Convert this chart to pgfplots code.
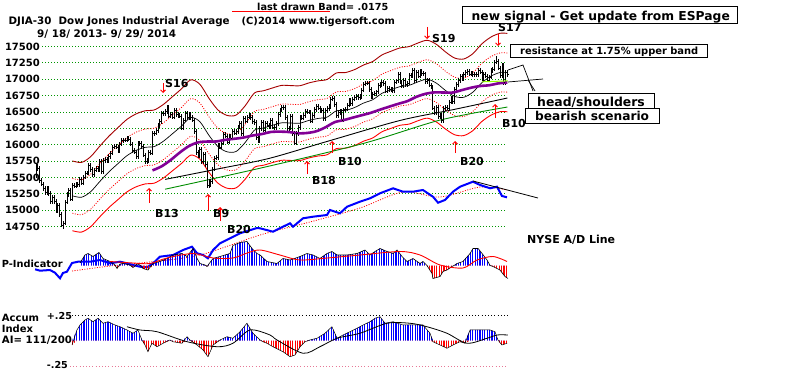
\documentclass[border=0pt]{standalone}
\usepackage{pgfplots}
\pgfplotsset{compat=1.18}
\usepackage{pgfplotstable}
\usepackage{fontspec}
\setmainfont{DejaVu Sans}
\usetikzlibrary{patterns.meta,arrows.meta}
\definecolor{dkred}{RGB}{165,0,0}
\definecolor{gridgreen}{RGB}{0,150,0}
\definecolor{purp}{RGB}{130,0,150}
\definecolor{mygreen}{RGB}{0,140,0}
\definecolor{mylime}{RGB}{150,255,0}
\definecolor{pinkish}{RGB}{230,120,150}
\pgfdeclareplotmark{rtick}{\pgfpathmoveto{\pgfpointorigin}\pgfpathlineto{\pgfqpoint{1.6pt}{0pt}}\pgfusepathqstroke}

\pgfplotstableread{
d c h l
0 15676 15710 15490
1 15636 15711 15601
2 15451 15671 15416
3 15401 15486 15366
4 15334 15436 15299
5 15273 15369 15238
6 15328 15363 15238
7 15258 15363 15223
8 15130 15293 15095
9 15191 15226 15095
10 15133 15226 15098
11 14996 15168 14961
12 15072 15107 14961
13 14936 15107 14901
14 14776 14971 14741
15 14802 14837 14719
16 15126 15161 14767
17 15237 15272 15091
18 15301 15336 15202
19 15168 15336 15133
20 15373 15408 15133
21 15371 15408 15336
22 15399 15434 15336
23 15392 15434 15357
24 15467 15502 15357
25 15413 15502 15378
26 15509 15544 15378
27 15570 15605 15474
28 15569 15605 15534
29 15680 15715 15534
30 15618 15715 15583
31 15546 15653 15511
32 15615 15650 15511
33 15639 15674 15580
34 15618 15674 15583
35 15746 15781 15583
36 15593 15781 15558
37 15762 15797 15558
38 15783 15818 15727
39 15751 15818 15716
40 15822 15857 15716
41 15876 15911 15787
42 15962 15997 15841
43 15976 16011 15927
44 15967 16011 15932
45 15901 16002 15866
46 16010 16045 15866
47 16065 16100 15975
48 16073 16108 16030
49 16073 16108 16038
50 16097 16132 16038
51 16086 16132 16051
52 16008 16121 15973
53 15915 16043 15880
54 15889 15950 15854
55 15821 15924 15786
56 16020 16055 15786
57 16026 16061 15985
58 15973 16061 15938
59 15844 16008 15809
60 15740 15879 15705
61 15755 15790 15705
62 15885 15920 15720
63 15875 15920 15840
64 16168 16203 15840
65 16179 16214 16133
66 16221 16256 16144
67 16295 16330 16186
68 16358 16393 16260
69 16479 16514 16323
70 16479 16514 16444
71 16505 16540 16444
72 16577 16612 16470
73 16441 16612 16406
74 16470 16505 16406
75 16426 16505 16391
76 16531 16566 16391
77 16463 16566 16428
78 16445 16498 16410
79 16437 16480 16402
80 16257 16472 16222
81 16374 16409 16222
82 16482 16517 16339
83 16418 16517 16383
84 16459 16494 16383
85 16415 16494 16380
86 16374 16450 16339
87 16198 16409 16163
88 15879 16233 15844
89 15838 15914 15803
90 15929 15964 15803
91 15739 15964 15704
92 15849 15884 15704
93 15699 15884 15664
94 15373 15734 15338
95 15445 15480 15338
96 15441 15480 15356
97 15629 15664 15406
98 15794 15829 15594
99 15801 15836 15759
100 15994 16029 15766
101 15964 16029 15929
102 16027 16062 15929
103 16154 16189 15992
104 16130 16189 16095
105 16040 16165 16005
106 16133 16168 16005
107 16104 16168 16069
108 16208 16243 16069
109 16180 16243 16145
110 16198 16233 16145
111 16272 16307 16163
112 16322 16357 16237
113 16168 16357 16133
114 16396 16431 16133
115 16360 16431 16325
116 16422 16457 16325
117 16453 16488 16387
118 16418 16488 16383
119 16351 16453 16316
120 16341 16386 16306
121 16109 16376 16074
122 16066 16144 16031
123 16247 16282 16031
124 16336 16371 16212
125 16223 16371 16188
126 16332 16367 16188
127 16303 16367 16268
128 16276 16338 16241
129 16368 16403 16241
130 16268 16403 16233
131 16264 16303 16229
132 16323 16358 16229
133 16458 16493 16288
134 16532 16567 16423
135 16573 16608 16497
136 16572 16608 16537
137 16413 16607 16378
138 16246 16448 16211
139 16257 16292 16211
140 16437 16472 16222
141 16171 16472 16136
142 16027 16206 15992
143 16174 16209 15992
144 16263 16298 16139
145 16425 16460 16228
146 16409 16460 16374
147 16449 16484 16374
148 16515 16550 16414
149 16502 16550 16467
150 16501 16537 16466
151 16361 16536 16326
152 16449 16484 16326
153 16535 16570 16414
154 16581 16616 16500
155 16559 16616 16524
156 16513 16594 16478
157 16530 16565 16478
158 16402 16565 16367
159 16518 16553 16367
160 16550 16585 16483
161 16583 16618 16515
162 16695 16730 16548
163 16715 16750 16660
164 16614 16750 16579
165 16447 16649 16412
166 16492 16527 16412
167 16512 16547 16457
168 16374 16547 16339
169 16533 16568 16339
170 16543 16578 16498
171 16606 16641 16508
172 16676 16711 16571
173 16633 16711 16598
174 16698 16733 16598
175 16717 16752 16663
176 16743 16778 16682
177 16722 16778 16687
178 16737 16772 16687
179 16836 16871 16702
180 16924 16959 16801
181 16943 16978 16889
182 16945 16980 16908
183 16843 16980 16808
184 16734 16878 16699
185 16776 16811 16699
186 16781 16816 16741
187 16808 16843 16746
188 16906 16941 16773
189 16921 16956 16871
190 16947 16982 16886
191 16937 16982 16902
192 16818 16972 16783
193 16868 16903 16783
194 16846 16903 16811
195 16851 16886 16811
196 16827 16886 16792
197 16956 16991 16792
198 16976 17011 16921
199 17068 17103 16941
200 16955 17103 16920
201 16906 16990 16871
202 16985 17020 16871
203 16915 17020 16880
204 16944 16979 16880
205 17055 17090 16909
206 17061 17096 17020
207 17138 17173 17026
208 16977 17173 16942
209 17100 17135 16942
210 17052 17135 17017
211 17114 17149 17017
212 17086 17149 17051
213 17083 17121 17048
214 16961 17118 16926
215 16983 17018 16926
216 16913 17018 16878
217 16881 16948 16846
218 16563 16916 16528
219 16493 16598 16458
220 16569 16604 16458
221 16430 16604 16395
222 16443 16478 16395
223 16369 16478 16334
224 16554 16589 16334
225 16570 16605 16519
226 16561 16605 16526
227 16651 16686 16526
228 16713 16748 16616
229 16663 16748 16628
230 16839 16874 16628
231 16919 16954 16804
232 16979 17014 16884
233 17039 17074 16944
234 17001 17074 16966
235 17076 17111 16966
236 17107 17142 17041
237 17122 17157 17072
238 17080 17157 17045
239 17098 17133 17045
240 17068 17133 17033
241 17079 17114 17033
242 17069 17114 17034
243 17138 17173 17034
244 17111 17173 17076
245 17014 17146 16979
246 17068 17103 16979
247 17049 17103 17014
248 16988 17084 16953
249 17031 17066 16953
250 17131 17166 16996
251 17156 17191 17096
252 17266 17301 17121
253 17280 17350 17231
254 17173 17315 17138
255 17056 17208 17021
256 17211 17246 17021
257 16946 17246 16911
258 17113 17148 16911
259 17071 17148 17036
}\price

\pgfplotstableread{
d ma up upd dnd dn
20 15219 15752 15485 14953 14686
25 15197 15729 15463 14931 14665
30 15281 15816 15548 15014 14746
35 15436 15976 15706 15166 14896
40 15583 16128 15856 15310 15038
45 15710 16260 15985 15435 15160
50 15833 16387 16110 15556 15279
55 15913 16470 16191 15635 15356
60 15959 16518 16238 15680 15400
65 15972 16531 16252 15692 15413
70 16053 16615 16334 15772 15491
75 16168 16734 16451 15885 15602
80 16285 16855 16570 16000 15715
85 16415 16990 16702 16128 15840
90 16352 16924 16638 16066 15780
95 16144 16709 16427 15861 15579
100 15971 16530 16250 15692 15412
105 15891 16447 16169 15613 15335
110 15897 16453 16175 15619 15341
115 16036 16597 16317 15755 15475
120 16221 16789 16505 15937 15653
125 16255 16824 16539 15971 15686
130 16297 16867 16582 16012 15727
135 16334 16906 16620 16048 15762
140 16331 16903 16617 16045 15759
145 16329 16901 16615 16043 15757
150 16371 16944 16657 16085 15798
155 16401 16975 16688 16114 15827
160 16422 16997 16709 16135 15847
165 16517 17095 16806 16228 15939
170 16524 17102 16813 16235 15946
175 16567 17147 16857 16277 15987
180 16636 17218 16927 16345 16054
185 16687 17271 16979 16395 16103
190 16783 17370 17077 16489 16196
195 16838 17427 17133 16543 16249
200 16887 17478 17183 16591 16296
205 16907 17499 17203 16611 16315
210 16961 17555 17258 16664 16367
215 17000 17595 17298 16703 16405
220 16940 17533 17236 16644 16347
225 16828 17417 17122 16534 16239
230 16738 17324 17031 16445 16152
235 16724 17309 17017 16431 16139
240 16802 17390 17096 16508 16214
245 16948 17541 17245 16651 16355
250 17048 17645 17346 16750 16451
255 17103 17702 17402 16804 16504
259 17101 17700 17400 16802 16502
}\bands

\pgfplotstableread{
d v
64 15607
69 15669
74 15766
79 15880
84 15978
89 16035
94 16048
99 16049
104 16074
109 16090
114 16109
119 16140
124 16162
129 16194
134 16199
139 16193
144 16174
149 16179
154 16205
159 16265
164 16343
169 16375
174 16413
179 16450
184 16487
189 16535
194 16580
199 16624
204 16665
209 16731
214 16777
219 16799
224 16797
229 16797
234 16834
239 16870
244 16896
249 16908
254 16936
259 16951
}\masixtyfive

\pgfplotstableread{
d v
71 15470
100 15630
128 15790
160 16050
200 16370
230 16540
259 16713
}\matwohundred

\pgfplotstableread{
d v
71 15320
123 15640
180 16020
222 16376
259 16575
}\greenline

\pgfplotstableread{
d v
-0.5 20.7
2.2 19.3
7.7 20
10.4 17.3
13.2 11.7
14.8 17
17.0 18.3
19.8 27
23.1 28.3
29.7 28.3
35.2 30
40.7 26.7
46.2 28.3
50.0 26.7
53.3 25
57.1 23.3
61.0 22.7
64.3 26.7
68.1 33.3
75.3 35
80.8 40
85.7 43.3
88.5 36.7
91.8 35
94.5 31.7
97.3 40
101.1 46.7
106.6 51.7
112.1 56.7
121.4 62
123.1 61.7
130.2 58.3
135.7 63.3
139.6 66.7
141.2 63.3
146.7 71.7
152.2 73.3
159.9 75
161.5 80
167.0 76.7
170.9 83.3
178.0 88.3
183.5 91.7
189.0 96.7
196.2 101.7
201.6 98.3
207.1 98.3
212.6 100
218.1 93.3
220.9 87.3
224.7 90
229.1 98.3
233.0 103.3
240.1 108.3
244.0 105
249.5 101.7
253.3 103.3
256.0 94
258.8 92.7
}\adline

\pgfplotstableread{
d v
19.8 19
40.7 24
62.6 28
90.1 35
123.1 55
150.5 68
178.0 82
201.6 98
222.0 93
244.0 103
258.8 100
}\adma

\pgfplotstableread{
d v p n
24.2 2.5 2.5 0
26.9 10.5 10.5 0
28.6 12 12 0
31.3 9 9 0
34.6 13 13 0
36.8 7 7 0
40.7 4 4 0
43.4 0.5 0.5 0
44.5 -3 0 -3
46.2 1.5 1.5 0
47.8 2 2 0
51.6 0.5 0.5 0
53.3 -2 0 -2
55.5 1.5 1.5 0
57.1 0.5 0.5 0
58.8 -3 0 -3
61.5 -4.5 0 -4.5
64.3 2 2 0
68.1 4 4 0
72.0 7 7 0
75.3 10.5 10.5 0
80.2 12 12 0
83.0 9 9 0
86.3 17 17 0
88.5 7 7 0
90.1 2 2 0
92.9 0.5 0.5 0
94.0 -1 0 -1
95.6 3 3 0
97.3 7 7 0
101.1 9 9 0
106.6 12 12 0
108.2 20 20 0
112.1 23 23 0
115.9 24 24 0
118.7 17 17 0
121.4 12 12 0
123.1 10.5 10.5 0
126.9 4 4 0
132.4 2 2 0
135.7 7 7 0
139.6 5.5 5.5 0
145.1 9 9 0
148.9 12 12 0
152.2 10.5 10.5 0
156.0 7 7 0
159.9 12 12 0
162.6 14 14 0
165.4 10.5 10.5 0
170.9 10.5 10.5 0
176.4 12 12 0
180.8 15.5 15.5 0
183.5 10.5 10.5 0
186.3 14 14 0
189.0 17 17 0
192.9 14 14 0
196.2 12 12 0
198.4 15.5 15.5 0
201.1 9 9 0
203.8 4 4 0
207.1 7 7 0
211.0 2 2 0
212.6 4 4 0
214.8 0 0 0
217.6 -8 0 -8
218.1 -13 0 -13
222.0 -11 0 -11
223.6 -6 0 -6
225.8 -4.5 0 -4.5
228.6 -1 0 -1
229.7 0 0 0
231.3 2 2 0
234.6 4 4 0
238.5 12 12 0
240.1 17 17 0
242.9 17 17 0
245.1 12 12 0
247.8 5.5 5.5 0
249.5 0 0 0
251.1 -1 0 -1
254.9 -4.5 0 -4.5
257.7 -11 0 -11
259.3 -13 0 -13
}\pind

\pgfplotstableread{
d v
40.7 4
53.3 2.5
62.6 2
72.0 7.5
86.3 12
97.3 7.5
108.2 7.5
116.0 12.5
123.1 15.5
134.0 10.5
145.0 5.5
160.0 7.5
178.0 10.5
200.0 14
211.0 10.5
222.0 0.5
234.6 -2.5
242.3 5.5
251.1 9
258.8 4
}\pindma

\pgfplotstableread{
d a p n
19.8 -0.044 0 -0.044
22.5 0.103 0.103 0
24.2 0.152 0.152 0
26.9 0.201 0.201 0
28.6 0.218 0.218 0
31.3 0.184 0.184 0
34.1 0.218 0.218 0
36.8 0.169 0.169 0
39.6 0.184 0.184 0
43.4 0.152 0.152 0
46.2 0.135 0.135 0
50.0 0.103 0.103 0
53.3 0.071 0.071 0
56.0 0.103 0.103 0
58.2 0.005 0.005 0
59.9 -0.044 0 -0.044
61.5 -0.110 0 -0.110
63.7 -0.027 0 -0.027
66.5 -0.061 0 -0.061
69.8 -0.027 0 -0.027
73.6 0.005 0.005 0
75.3 -0.012 0 -0.012
80.2 -0.027 0 -0.027
83.0 0.037 0.037 0
84.6 0.005 0.005 0
88.5 -0.044 0 -0.044
91.8 -0.093 0 -0.093
94.5 -0.159 0 -0.159
97.3 -0.044 0 -0.044
101.1 0.005 0.005 0
104.9 0.037 0.037 0
108.2 0.022 0.022 0
112.1 0.086 0.086 0
115.9 0.169 0.169 0
119.2 0.071 0.071 0
123.1 0.005 0.005 0
124.7 -0.012 0 -0.012
126.9 -0.027 0 -0.027
130.2 -0.061 0 -0.061
135.7 -0.110 0 -0.110
139.6 -0.159 0 -0.159
142.3 -0.142 0 -0.142
145.1 -0.061 0 -0.061
147.8 -0.012 0 -0.012
150.5 0.005 0.005 0
154.4 0.022 0.022 0
158.8 0.071 0.071 0
162.6 0.135 0.135 0
165.4 0.022 0.022 0
168.7 0.054 0.054 0
172.5 0.086 0.086 0
176.4 0.120 0.120 0
179.7 0.152 0.152 0
183.5 0.184 0.184 0
186.3 0.218 0.218 0
189.0 0.233 0.233 0
191.8 0.169 0.169 0
196.2 0.184 0.184 0
201.6 0.152 0.152 0
207.1 0.152 0.152 0
212.6 0.152 0.152 0
216.5 0.071 0.071 0
218.1 -0.012 0 -0.012
222.0 -0.044 0 -0.044
225.8 -0.076 0 -0.076
229.1 -0.044 0 -0.044
232.9 -0.012 0 -0.012
235.7 -0.027 0 -0.027
238.5 0.103 0.103 0
242.3 0.103 0.103 0
245.1 0.103 0.103 0
249.5 0.103 0.103 0
252.2 0.086 0.086 0
253.8 0.005 0.005 0
256.0 -0.044 0 -0.044
258.8 -0.027 0 -0.027
}\accum

\pgfplotstableread{
d a
50.0 0.135
57.1 0.103
66.5 0.086
83.0 -0.012
99.5 -0.061
108.2 -0.027
117.6 0.103
128.6 0.054
132.4 0.005
146.7 -0.125
156.0 -0.061
165.4 0.022
178.0 0.071
192.9 0.169
205.5 0.169
214.8 0.135
225.8 0.071
236.8 -0.027
247.8 0.022
253.3 0.054
259.3 0.054
}\accumma

\pgfkeys{/pgf/number format/assume math mode=true}

\begin{document}
\begin{tikzpicture}
\path[use as bounding box] (0,0) rectangle (800pt,-369pt);

% ---------------- price panel
\begin{axis}[at={(42pt,-226.5pt)},anchor=south west,scale only axis,
  width=463pt,height=180pt,
  xmin=3.297,xmax=257.69,ymin=14750,ymax=17500,clip=false,
  axis line style={draw=none},xtick=\empty,
  scaled y ticks=false,scaled x ticks=false,
  ytick={14750,15000,15250,15500,15750,16000,16250,16500,16750,17000,17250,17500},
  yticklabels={14750,15000,15250,15500,15750,16000,16250,16500,16750,17000,17250,17500},
  major tick length=0pt,ymajorgrids,
  major grid style={gridgreen,line width=0.8pt,dash pattern=on 0.8pt off 2.2pt},
  yticklabel style={font=\fontsize{10}{10}\selectfont\bfseries,inner sep=0pt,xshift=-2pt}]
\addplot[smooth,dkred,line width=0.9pt] table[x=d,y=up]{\bands};
\addplot[smooth,red,line width=0.8pt,dash pattern=on 1pt off 1.5pt] table[x=d,y=upd]{\bands};
\addplot[smooth,red,line width=0.8pt,dash pattern=on 1pt off 1.5pt] table[x=d,y=dnd]{\bands};
\addplot[smooth,red,line width=0.9pt] table[x=d,y=dn]{\bands};
\addplot[smooth,black,line width=0.7pt] table[x=d,y=ma]{\bands};
\addplot[smooth,black,line width=0.9pt] table[x=d,y=v]{\matwohundred};
\addplot[smooth,mygreen,line width=0.9pt] table[x=d,y=v]{\greenline};
\addplot[only marks,mark=rtick,mark options={black,line width=0.6pt},
  error bars/.cd,y dir=both,y explicit,error mark=none,
  error bar style={black,line width=0.75pt}]
  table[x=d,y=c,y error plus expr={\thisrow{h}-\thisrow{c}},y error minus expr={\thisrow{c}-\thisrow{l}}]{\price};
\addplot[smooth,purp,line width=2.6pt] table[x=d,y=v]{\masixtyfive};
\addplot[mylime,line width=1pt] coordinates {(245,16960) (259.3,16975)};
\end{axis}

% ---------------- A/D line
\begin{axis}[at={(42pt,-290pt)},anchor=south west,scale only axis,
  width=463pt,height=120pt,xmin=3.297,xmax=257.69,ymin=0,ymax=120,
  clip=false,hide axis]
\addplot[red,line width=0.8pt,dash pattern=on 1pt off 1.5pt,smooth] table[x=d,y=v]{\adma};
\addplot[blue,line width=2pt] table[x=d,y=v]{\adline};
\addplot[black,line width=0.8pt] coordinates {(240.1,109) (275.8,92)};
\end{axis}

% ---------------- P-Indicator
\begin{axis}[at={(42pt,-285.5pt)},anchor=south west,scale only axis,
  width=463pt,height=40pt,xmin=3.297,xmax=257.69,ymin=-20,ymax=20,
  clip=false,hide axis]
\addplot[draw=none,pattern={Lines[angle=90,distance=2.4pt,line width=1.1pt]},pattern color=blue] table[x=d,y=p]{\pind} \closedcycle;
\addplot[draw=none,pattern={Lines[angle=90,distance=2.4pt,line width=1.1pt]},pattern color=red] table[x=d,y=n]{\pind} \closedcycle;
\addplot[black,line width=0.6pt] table[x=d,y=v]{\pind};
\addplot[red,line width=0.9pt,smooth] table[x=d,y=v]{\pindma};
\end{axis}

% ---------------- Accumulation index
\begin{axis}[at={(42pt,-366pt)},anchor=south west,scale only axis,
  width=463pt,height=51pt,xmin=3.297,xmax=257.69,ymin=-0.25,ymax=0.25,
  clip=false,hide axis]
\addplot[draw=none,pattern={Lines[angle=90,distance=2.4pt,line width=1.1pt]},pattern color=blue] table[x=d,y=p]{\accum} \closedcycle;
\addplot[draw=none,pattern={Lines[angle=90,distance=2.4pt,line width=1.1pt]},pattern color=red] table[x=d,y=n]{\accum} \closedcycle;
\addplot[black,line width=0.5pt] table[x=d,y=a]{\accum};
\addplot[black,line width=0.8pt,smooth] table[x=d,y=a]{\accumma};
\end{axis}

% ---------------- annotations (pixel coordinates)
\begin{scope}[x=1pt,y=-1pt]
\tikzset{lab/.style={anchor=base west,inner sep=0pt,font=\fontsize{#1}{#1}\selectfont\bfseries}}
\draw[black,line width=0.7pt,dash pattern=on 0.8pt off 2.4pt] (72,315) -- (508,315);
\draw[pinkish,line width=0.7pt,dash pattern=on 0.8pt off 2.4pt] (70,366) -- (508,366);
\draw[red,line width=1pt] (232,12) -- (330,12);
\node[lab=9.7] at (257,10.3) {last drawn Band= .0175};
\node[lab=10.3] at (8.5,24.5) {DJIA-30\ \ Dow Jones Industrial Average};
\node[lab=9.9] at (241.5,24.5) {(C)2014 www.tigersoft.com};
\node[lab=10.4] at (37,37.3) {9/ 18/ 2013- 9/ 29/ 2014};
\node[lab=9.8] at (1.7,267) {P-Indicator};
\node[lab=10] at (1.7,321) {Accum};
\node[lab=10] at (1.7,332.5) {Index};
\node[lab=10.2] at (1.7,343.5) {AI= 111/200};
\node[lab=9.6] at (46.7,319.5) {+.25};
\node[lab=9.6] at (46.7,368.3) {-.25};
\node[lab=11] at (527,243) {NYSE A/D Line};
% signals
\node[lab=11] at (165,88) {S16};
\node[lab=11] at (432,43) {S19};
\node[lab=11] at (498,32) {S17};
\node[lab=11] at (155,217) {B13};
\node[lab=11] at (213,217) {B9};
\node[lab=11] at (227,233) {B20};
\node[lab=11] at (312,184) {B18};
\node[lab=11] at (338,165) {B10};
\node[lab=11] at (460,165) {B20};
\node[lab=11] at (502,127.5) {B10};
\tikzset{sig/.style={red,line width=0.9pt,-{Straight Barb[length=2.5pt,width=5pt]}}}
\draw[sig] (163,83) -- (163,93);
\draw[sig] (427,27) -- (427,39);
\draw[sig] (498,34) -- (498,46);
\draw[sig] (149,203) -- (149,188);
\draw[sig] (208,211) -- (208,194);
\draw[sig] (220,221) -- (220,207);
\draw[sig] (307,174) -- (307,161);
\draw[sig] (332,153) -- (332,141);
\draw[sig] (455,153) -- (455,141);
\draw[sig] (495,118) -- (495,104);
% head and shoulders lines
\draw[black,line width=0.7pt] (508,70) -- (523,65) -- (533,91);
\draw[black,line width=0.7pt] (508,82) -- (543,79);
\draw[black,line width=0.7pt] (528,80) -- (535,91);
% boxes
\draw[black,line width=1pt,fill=white] (462,6.7) rectangle (737.7,23.3);
\node[lab=12.3] at (471.5,20.3) {new signal - Get update from ESPage};
\draw[black,line width=1pt,fill=white] (510,44.3) rectangle (707.3,57.3);
\node[lab=9.9] at (520,54.6) {resistance at 1.75\% upper band};
\draw[black,line width=1pt,fill=white] (528.3,93.3) rectangle (654,109);
\node[lab=12.4] at (537,106) {head/shoulders};
\draw[black,line width=1pt,fill=white] (525,108.3) rectangle (659.3,123.3);
\node[lab=12.2] at (535,120) {bearish scenario};
\end{scope}
\end{tikzpicture}
\end{document}
